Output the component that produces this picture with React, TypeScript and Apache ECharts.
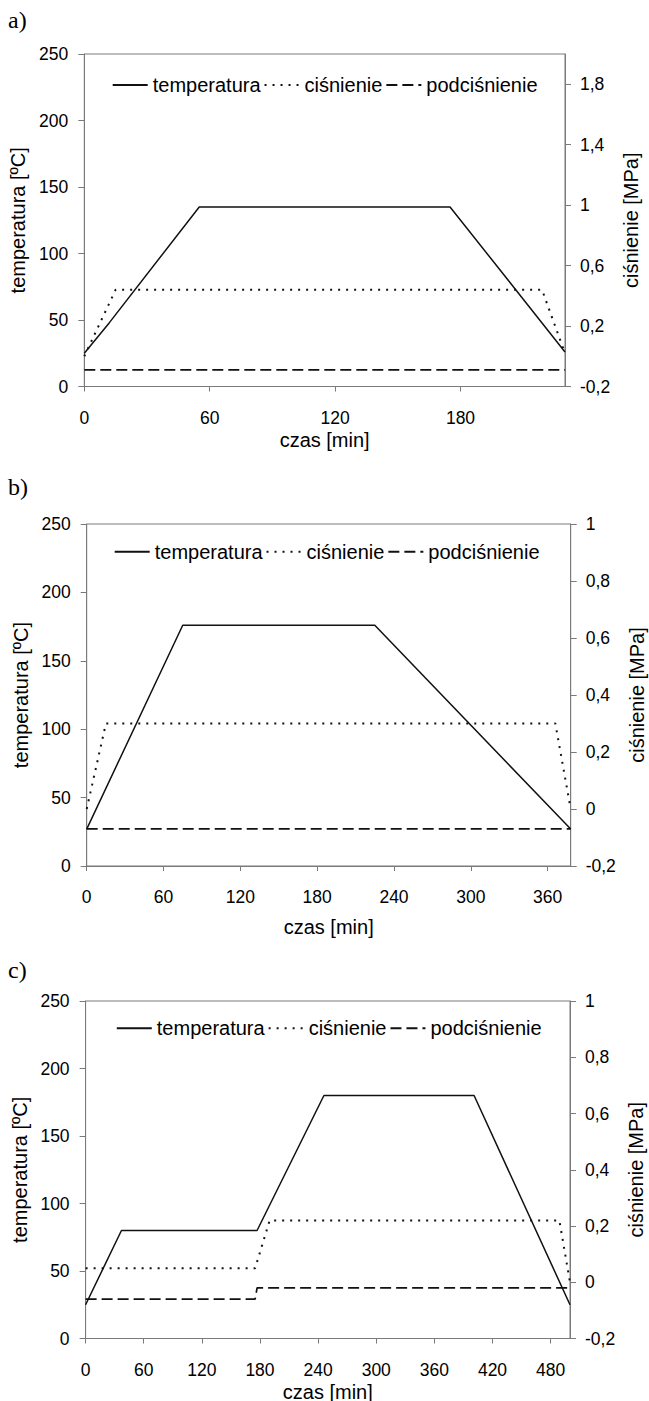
import React, { useEffect, useRef } from "react";
import * as echarts from "echarts";

// ---- panel labels & texts ----
const panelLabels = ["a)", "b)", "c)"];
const seriesNames = ["temperatura", "ciśnienie", "podciśnienie"];
const xName = "czas [min]";
const yLeftName = "temperatura [ºC]";
const yRightName = "ciśnienie [MPa]";

// ---- axis ranges / tick values ----
const xMax = [230, 378, 500];
const xTicksA = [0, 60, 120, 180];
const xTicksB = [0, 60, 120, 180, 240, 300, 360];
const xTicksC = [0, 60, 120, 180, 240, 300, 360, 420, 480];
const rightMin = [-0.2, -0.2, -0.2];
const rightMax = [2.0, 1.0, 1.0];
const rightTicksA = [-0.2, 0.2, 0.6, 1.0, 1.4, 1.8];
const rightTicksB = [-0.2, 0, 0.2, 0.4, 0.6, 0.8, 1.0];
const rightTicksC = [-0.2, 0, 0.2, 0.4, 0.6, 0.8, 1.0];

// ---- panel a ----
const tempA_t = [0, 12, 55, 175, 230];
const tempA_v = [25, 48, 135, 135, 26];
const presA_t = [0, 15, 219, 230];
const presA_v = [0, 0.44, 0.44, 0.02];
const vacA_t = [0, 230];
const vacA_v = [-0.09, -0.09];

// ---- panel b ----
const tempB_t = [0, 75, 225, 378];
const tempB_v = [27, 176, 176, 27];
const presB_t = [0, 15, 366, 378];
const presB_v = [0, 0.3, 0.3, 0];
const vacB_t = [0, 378];
const vacB_v = [-0.07, -0.07];

// ---- panel c ----
const tempC_t = [0, 37, 177, 246, 401, 500];
const tempC_v = [25, 80, 80, 180, 180, 25];
const presC_t = [0, 175, 190, 489, 500];
const presC_v = [0.05, 0.05, 0.22, 0.22, 0];
const vacC_t = [0, 175, 177, 500];
const vacC_v = [-0.06, -0.06, -0.02, -0.02];

const zip = (t: number[], v: number[]) => t.map((x, i) => [x, v[i]]);

const FONT = "'Liberation Sans', Arial, sans-serif";
const AXIS_COLOR = "#7a7a7a";
const LINE_COLOR = "#111";

// layout of the three plot areas
const grids = [
  { left: 84.3, top: 54, width: 480.7, height: 332.5, legendLeft: 111.7, legendTop: 75, nameGapX: 43 },
  { left: 86.7, top: 524, width: 484, height: 342, legendLeft: 113.7, legendTop: 541.7, nameGapX: 51 },
  { left: 85.6, top: 1001, width: 484.4, height: 337.5, legendLeft: 115.8, legendTop: 1018.3, nameGapX: 43 },
];
const titleTops = [8, 475, 958];

const fmtComma = (v: number) => String(+v.toFixed(1)).replace(".", ",");

export default function App() {
  const ref = useRef<HTMLDivElement>(null);
  useEffect(() => {
    if (!ref.current) return;
    const chart = echarts.init(ref.current, null, { renderer: "svg" });
    const xTicks = [xTicksA, xTicksB, xTicksC];
    const rightTicks = [rightTicksA, rightTicksB, rightTicksC];
    const data = [
      [zip(tempA_t, tempA_v), zip(presA_t, presA_v), zip(vacA_t, vacA_v)],
      [zip(tempB_t, tempB_v), zip(presB_t, presB_v), zip(vacB_t, vacB_v)],
      [zip(tempC_t, tempC_v), zip(presC_t, presC_v), zip(vacC_t, vacC_v)],
    ];
    const lineStyles = [
      { color: LINE_COLOR, width: 1.5, type: "solid" },
      { color: LINE_COLOR, width: 2, type: [2, 6] },
      { color: LINE_COLOR, width: 1.7, type: [11, 5] },
    ];

    const axisLineStyle = { color: AXIS_COLOR, width: 1 };
    const labelStyle = { fontFamily: FONT, fontSize: 17.5, color: "#000" };
    const nameStyle = { fontFamily: FONT, fontSize: 20, color: "#000" };

    const option: any = {
      animation: false,
      backgroundColor: "#fff",
      title: panelLabels.map((t, i) => ({
        text: t,
        left: 8,
        top: titleTops[i],
        padding: 0,
        textStyle: { fontFamily: "'Liberation Serif', 'Times New Roman', serif", fontSize: 24, fontWeight: "normal", color: "#000" },
      })),
      legend: grids.map((g) => ({
        data: seriesNames,
        left: g.legendLeft,
        top: g.legendTop,
        orient: "horizontal",
        padding: 0,
        itemWidth: 35,
        itemHeight: 14,
        itemGap: 3,
        selectedMode: false,
        itemStyle: { color: "rgba(0,0,0,0)", borderColor: "rgba(0,0,0,0)", borderWidth: 0, opacity: 0 },
        textStyle: { fontFamily: FONT, fontSize: 20, color: "#000" },
      })),
      grid: grids.map((g) => ({
        left: g.left,
        top: g.top,
        width: g.width,
        height: g.height,
        show: true,
        borderColor: AXIS_COLOR,
        borderWidth: 1,
        backgroundColor: "transparent",
        containLabel: false,
        outerBoundsMode: "none",
      })),
      xAxis: grids.map((g, i) => ({
        type: "value",
        gridIndex: i,
        min: 0,
        max: xMax[i],
        axisLine: { show: true, onZero: false, lineStyle: axisLineStyle },
        axisTick: { show: true, length: 5, customValues: xTicks[i], lineStyle: axisLineStyle },
        axisLabel: { show: true, customValues: xTicks[i], margin: 22, ...labelStyle },
        splitLine: { show: false },
        name: xName,
        nameLocation: "middle",
        nameGap: g.nameGapX,
        nameTextStyle: nameStyle,
      })),
      yAxis: [
        ...grids.map((g, i) => ({
          type: "value",
          gridIndex: i,
          position: "left",
          min: 0,
          max: 250,
          interval: 50,
          axisLine: { show: true, onZero: false, lineStyle: axisLineStyle },
          axisTick: { show: true, length: 6, lineStyle: axisLineStyle },
          axisLabel: { show: true, margin: 16, ...labelStyle },
          splitLine: { show: false },
          name: yLeftName,
          nameLocation: "middle",
          nameRotate: 90,
          nameGap: 47,
          nameTextStyle: nameStyle,
        })),
        ...grids.map((g, i) => ({
          type: "value",
          gridIndex: i,
          position: "right",
          min: rightMin[i],
          max: rightMax[i],
          axisLine: { show: true, onZero: false, lineStyle: axisLineStyle },
          axisTick: { show: true, length: 6, customValues: rightTicks[i], lineStyle: axisLineStyle },
          axisLabel: { show: true, margin: 15, customValues: rightTicks[i], formatter: (v: number) => fmtComma(v), ...labelStyle },
          splitLine: { show: false },
          name: yRightName,
          nameLocation: "middle",
          nameRotate: 90,
          nameGap: 52,
          nameTextStyle: nameStyle,
        })),
      ],
      series: grids.flatMap((g, i) =>
        seriesNames.map((name, k) => ({
          name,
          type: "line",
          xAxisIndex: i,
          yAxisIndex: k === 0 ? i : 3 + i,
          data: data[i][k],
          showSymbol: false,
          symbol: "none",
          lineStyle: lineStyles[k],
          itemStyle: { color: LINE_COLOR },
          silent: true,
        }))
      ),
    };
    chart.setOption(option);
    return () => chart.dispose();
  }, []);

  return (
    <div
      ref={ref}
      style={{ position: "absolute", left: 0, top: 0, width: 649, height: 1401, background: "#fff" }}
    />
  );
}
